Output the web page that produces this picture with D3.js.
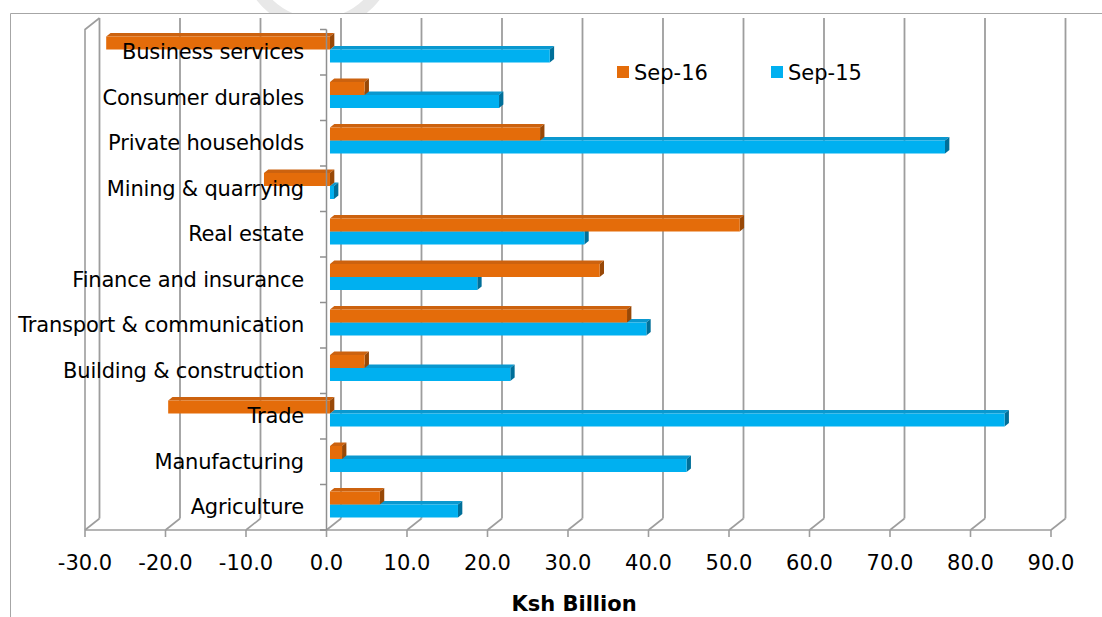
<!DOCTYPE html>
<html>
<head>
<meta charset="utf-8">
<script src="https://cdn.jsdelivr.net/npm/d3@7"></script>
<style>
  html, body { margin: 0; padding: 0; background: #fff; }
  svg { display: block; }
  text { font-family: "DejaVu Sans", Verdana, sans-serif; fill: #000; }
</style>
</head>
<body>
<svg id="chart" width="1102" height="617"></svg>
<script>
// Credit to the private sector by industry, change in Ksh billion
const categories = [
  "Agriculture", "Manufacturing", "Trade", "Building & construction",
  "Transport & communication", "Finance and insurance", "Real estate",
  "Mining & quarrying", "Private households", "Consumer durables",
  "Business services"
];
const sep16 = [6.2, 1.5, -20.1, 4.3, 36.9, 33.5, 50.9, -8.2, 26.1, 4.3, -27.8];
const sep15 = [15.9, 44.3, 83.8, 22.4, 39.3, 18.3, 31.6, 0.5, 76.4, 21.0, 27.3];
const seriesNames = ["Sep-16", "Sep-15"];
const xTicks = [-30, -20, -10, 0, 10, 20, 30, 40, 50, 60, 70, 80, 90];
const axisTitle = "Ksh Billion";

const svg = d3.select("#chart");
const W = 1102, H = 617;

// oblique projection for the 3-D look
const DX = 14.5, DY = -11.5;
const proj = (px, py, z) => [px + z * DX, py + z * DY];

const x = d3.scaleLinear().domain([-30, 90]).range([85, 1051]);
const y = d3.scaleBand().domain(categories.slice().reverse()).range([29.5, 530]);
const floorY = 530, topY = 29.5;
const fmt = v => d3.format(".1f")(v).replace("\u2212", "-");

// faint watermark ring peeking above the chart frame
svg.append("circle")
  .attr("cx", 318).attr("cy", -48).attr("r", 72)
  .attr("fill", "none").attr("stroke", "#e8e8e8").attr("stroke-width", 12);

// chart area
svg.append("rect").attr("x", 10).attr("y", 13).attr("width", W - 10).attr("height", H - 13)
  .attr("fill", "#fff");
svg.append("path").attr("d", `M10.5,${H}V13.5H${W}`)
  .attr("fill", "none").attr("stroke", "#a6a6a6").attr("stroke-width", 1);

const grid = svg.append("g").attr("stroke", "#9d9d9d").attr("fill", "none");

// back-wall gridlines
grid.selectAll("line.grid").data(xTicks).join("line")
  .attr("class", "grid")
  .attr("x1", d => proj(x(d), topY, 1)[0]).attr("y1", d => proj(x(d), topY, 1)[1])
  .attr("x2", d => proj(x(d), floorY, 1)[0]).attr("y2", d => proj(x(d), floorY, 1)[1])
  .attr("stroke-width", 1.8);

// side wall front edge and top
{
  const a = proj(x(-30), floorY, 0), b = proj(x(-30), topY, 0), c = proj(x(-30), topY, 1);
  grid.append("path").attr("d", `M${a}L${b}L${c}`).attr("stroke-width", 1.6);
}

// floor: front edge, depth connectors, tick marks
grid.append("line")
  .attr("x1", x(-30)).attr("y1", floorY).attr("x2", x(90)).attr("y2", floorY)
  .attr("stroke-width", 1.6);
grid.selectAll("path.depth").data(xTicks).join("path")
  .attr("class", "depth")
  .attr("d", d => `M${proj(x(d), floorY, 0)}L${proj(x(d), floorY, 1)}`)
  .attr("stroke-width", 1.6);
grid.selectAll("line.tick").data(xTicks).join("line")
  .attr("class", "tick")
  .attr("x1", d => x(d)).attr("x2", d => x(d))
  .attr("y1", floorY).attr("y2", floorY + 7)
  .attr("stroke-width", 1.6);

// bars
const Z0 = 0.24, Z1 = 0.54, BH = 13;
const colors = [
  { front: "#e46c0a", top: "#cc620f", side: "#984807" },
  { front: "#00b0f0", top: "#0a98cf", side: "#006f99" }
];
const poly = pts => "M" + pts.map(p => p.join(",")).join("L") + "Z";

const rows = categories.map((c, i) => ({ cat: c, vals: [sep16[i], sep15[i]] }));
const barG = svg.append("g");
rows.forEach(r => {
  // lower series first so the upper one covers its top face
  [1, 0].forEach(s => {
    const v = r.vals[s];
    const yt = y(r.cat) + y.bandwidth() / 2 - BH + s * BH, yb = yt + BH;
    const xa = x(Math.min(0, v)), xb = x(Math.max(0, v));
    const col = colors[s];
    const g = barG.append("g");
    g.append("path").attr("fill", col.top)
      .attr("d", poly([proj(xa, yt, Z0), proj(xb, yt, Z0), proj(xb, yt, Z1), proj(xa, yt, Z1)]));
    g.append("path").attr("fill", col.side)
      .attr("d", poly([proj(xb, yt, Z0), proj(xb, yt, Z1), proj(xb, yb, Z1), proj(xb, yb, Z0)]));
    g.append("path").attr("fill", col.front)
      .attr("d", poly([proj(xa, yt, Z0), proj(xb, yt, Z0), proj(xb, yb, Z0), proj(xa, yb, Z0)]));
  });
});

// category axis at zero on the front plane
const bounds = d3.range(categories.length + 1).map(i => topY + i * y.step());
const catAxis = svg.append("g").attr("stroke", "#8f8f8f").attr("fill", "none");
catAxis.append("line").attr("x1", x(0)).attr("x2", x(0)).attr("y1", topY).attr("y2", floorY)
  .attr("stroke-width", 1.5);
catAxis.selectAll("line.ct").data(bounds).join("line")
  .attr("class", "ct")
  .attr("x1", x(0) - 6.5).attr("x2", x(0)).attr("y1", d => d).attr("y2", d => d)
  .attr("stroke-width", 1.5);

// category labels
svg.append("g").selectAll("text").data(categories).join("text")
  .attr("x", 304)
  .attr("y", d => y(d) + y.bandwidth() / 2 + 7)
  .attr("text-anchor", "end")
  .attr("font-size", 21)
  .attr("letter-spacing", -0.2)
  .text(d => d);

// value tick labels
svg.append("g").selectAll("text").data(xTicks).join("text")
  .attr("x", d => x(d))
  .attr("y", 570)
  .attr("text-anchor", "middle")
  .attr("font-size", 21)
  .text(d => fmt(d));

// axis title
svg.append("text")
  .attr("x", 574).attr("y", 611)
  .attr("text-anchor", "middle")
  .attr("font-size", 21).attr("font-weight", "bold")
  .text(axisTitle);

// legend
const legend = svg.append("g");
const legendX = [617, 771];
seriesNames.forEach((name, i) => {
  legend.append("rect").attr("x", legendX[i]).attr("y", 66).attr("width", 12).attr("height", 12)
    .attr("fill", colors[i].front);
  legend.append("text").attr("x", legendX[i] + 17).attr("y", 80)
    .attr("font-size", 21).text(name);
});
</script>
</body>
</html>
